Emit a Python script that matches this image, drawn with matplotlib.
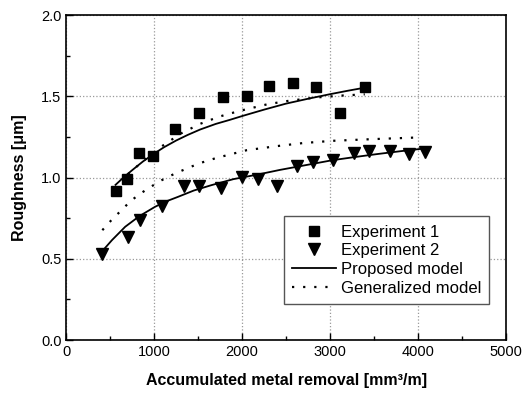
import matplotlib
matplotlib.use('Agg')
import matplotlib.pyplot as plt
from matplotlib.ticker import MultipleLocator

plt.rcParams['font.family'] = ['Liberation Sans', 'DejaVu Sans']

# Experiment 1 (squares)
exp1_x = [560, 686, 826, 982, 1235, 1508, 1784, 2057, 2307, 2580, 2834, 3118, 3394]
exp1_y = [0.916, 0.994, 1.148, 1.134, 1.296, 1.398, 1.494, 1.50, 1.564, 1.58, 1.556, 1.40, 1.556]

# Experiment 2 (triangles)
exp2_x = [406, 701, 838, 1088, 1341, 1511, 1758, 1996, 2175, 2398, 2625, 2807, 3034,
          3269, 3440, 3678, 3898, 4076]
exp2_y = [0.529, 0.635, 0.738, 0.824, 0.949, 0.949, 0.935, 1.004, 0.994, 0.949, 1.072,
          1.097, 1.107, 1.15, 1.164, 1.164, 1.144, 1.156]

# proposed model curves
prop1_x = [560, 660, 760, 870, 990, 1110, 1250, 1380, 1520, 1700, 1860, 2010, 2250,
           2500, 2750, 3000, 3200, 3394]
prop1_y = [0.955, 1.005, 1.05, 1.098, 1.144, 1.186, 1.228, 1.262, 1.295, 1.33, 1.355,
           1.38, 1.418, 1.455, 1.485, 1.513, 1.534, 1.553]
prop2_x = [406, 520, 670, 830, 1010, 1130, 1270, 1450, 1650, 1900, 2200, 2430, 2660,
           3030, 3280, 3530, 3800, 4090]
prop2_y = [0.545, 0.615, 0.697, 0.762, 0.82, 0.852, 0.881, 0.92, 0.953, 0.99, 1.021,
           1.047, 1.07, 1.107, 1.126, 1.144, 1.162, 1.18]

# generalized model curves
gen1_x = [700, 870, 1080, 1300, 1520, 1740, 1970, 2280, 2500, 2850, 3150, 3394]
gen1_y = [1.02, 1.10, 1.19, 1.27, 1.33, 1.375, 1.41, 1.45, 1.47, 1.493, 1.505, 1.512]
gen2_x = [410, 520, 630, 730, 845, 950, 1065, 1180, 1290, 1400, 1510, 1710, 2050,
          2390, 2690, 3030, 3470, 4020]
gen2_y = [0.676, 0.742, 0.80, 0.855, 0.902, 0.939, 0.978, 1.01, 1.037, 1.062, 1.087,
          1.121, 1.168, 1.193, 1.212, 1.226, 1.236, 1.247]

fig = plt.figure(figsize=(5.29, 3.96), dpi=100)
ax = fig.add_axes([0.1253, 0.1414, 0.8312, 0.8206])

dot = (0, (1, 4))
ax.plot(prop1_x, prop1_y, color='black', lw=1.3)
ax.plot(prop2_x, prop2_y, color='black', lw=1.3)
ax.plot(gen1_x, gen1_y, color='black', lw=1.6, ls=dot)
ax.plot(gen2_x, gen2_y, color='black', lw=1.6, ls=dot)
ax.plot(exp1_x, exp1_y, ls='none', marker='s', ms=7, color='black')
ax.plot(exp2_x, exp2_y, ls='none', marker='v', ms=8.5, color='black')

# legend handles
h1, = ax.plot([], [], ls='none', marker='s', ms=7, color='black', label='Experiment 1')
h2, = ax.plot([], [], ls='none', marker='v', ms=8.5, color='black', label='Experiment 2')
h3, = ax.plot([], [], color='black', lw=1.3, label='Proposed model')
h4, = ax.plot([], [], color='black', lw=1.6, ls=dot, label='Generalized model')
leg = ax.legend(handles=[h1, h2, h3, h4], loc='lower right',
                bbox_to_anchor=(0.962, 0.111), fontsize=12, frameon=True,
                fancybox=False, edgecolor='#555555', framealpha=1,
                handlelength=2.6, handletextpad=0.3, labelspacing=0.22,
                borderpad=0.5, borderaxespad=0)
leg.get_frame().set_linewidth(1.0)

ax.set_xlim(0, 5000)
ax.set_ylim(0, 2.0)
ax.xaxis.set_major_locator(MultipleLocator(1000))
ax.xaxis.set_minor_locator(MultipleLocator(500))
ax.yaxis.set_major_locator(MultipleLocator(0.5))
ax.yaxis.set_minor_locator(MultipleLocator(0.25))
ax.yaxis.set_major_formatter(matplotlib.ticker.FormatStrFormatter('%.1f'))
ax.tick_params(which='both', direction='in', top=False, right=False, labelsize=10.5)
ax.tick_params(which='major', length=5, width=1)
ax.tick_params(which='minor', length=3, width=1)
ax.grid(True, which='major', ls=':', color='#999999', lw=0.9)
for s in ax.spines.values():
    s.set_linewidth(1.2)

ax.set_xlabel('Accumulated metal removal [mm³/m]', fontsize=11.5, fontweight='bold', labelpad=10)
ax.set_ylabel('Roughness [μm]', fontsize=11.5, fontweight='bold', labelpad=10)

fig.savefig('out.png', dpi=100)
